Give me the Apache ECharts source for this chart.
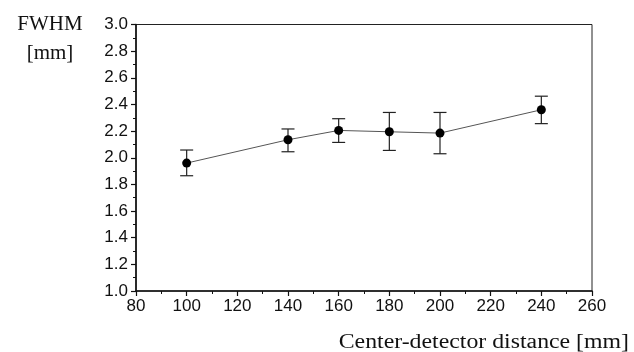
<!DOCTYPE html>
<html>
<head>
<meta charset="utf-8">
<script src="https://cdn.jsdelivr.net/npm/echarts@6/dist/echarts.min.js"></script>
<style>html,body{margin:0;padding:0;background:#fff}#c{width:634px;height:352px}</style>
</head>
<body>
<div id="c"></div>
<script>
var distances = [100, 140, 160, 180, 200, 240];
var fwhm = [1.96, 2.135, 2.205, 2.195, 2.185, 2.36];
var errLow = [1.865, 2.045, 2.115, 2.055, 2.03, 2.256];
var errHigh = [2.058, 2.216, 2.293, 2.34, 2.34, 2.462];
var xTicks = [80, 100, 120, 140, 160, 180, 200, 220, 240, 260];
var yTicks = [1.0, 1.2, 1.4, 1.6, 1.8, 2.0, 2.2, 2.4, 2.6, 2.8, 3.0];
var yTitle = 'FWHM\n[mm]';
var xTitle = 'Center-detector distance [mm]';

var chart = echarts.init(document.getElementById('c'));
var lineData = distances.map(function (d, i) { return [d, fwhm[i]]; });
var errData = distances.map(function (d, i) { return [d, errLow[i], errHigh[i]]; });

var axisCommon = {
  axisLine: { show: true, onZero: false, lineStyle: { color: '#111', width: 1.6 } },
  axisTick: { show: true, inside: false, length: 5, lineStyle: { color: '#111', width: 1.2 } },
  minorTick: { show: true, splitNumber: 2, length: 3, lineStyle: { color: '#111', width: 1 } },
  splitLine: { show: false },
  axisLabel: { color: '#111', fontFamily: 'Liberation Sans', fontSize: 17 }
};

chart.setOption({
  animation: false,
  grid: { left: 136, right: 42, top: 24.5, bottom: 61, show: true, borderColor: '#222', borderWidth: 1 },
  xAxis: Object.assign({}, axisCommon, {
    type: 'value', min: xTicks[0], max: xTicks[xTicks.length - 1], interval: 20,
    axisLabel: Object.assign({}, axisCommon.axisLabel, { margin: 7 })
  }),
  yAxis: Object.assign({}, axisCommon, {
    type: 'value', min: yTicks[0], max: yTicks[yTicks.length - 1], interval: 0.2,
    axisLabel: Object.assign({}, axisCommon.axisLabel, { margin: 8, formatter: function (v) { return v.toFixed(1); } })
  }),
  graphic: [
    { type: 'text', x: 50, y: 10, style: { text: yTitle, align: 'center', verticalAlign: 'top', fill: '#111', font: '21px "Liberation Serif"', lineHeight: 29 } },
    { type: 'text', x: 629, y: 333, scaleX: 1.19, originX: 0, originY: 0, style: { text: xTitle, align: 'right', verticalAlign: 'top', fill: '#111', font: '20px "Liberation Serif"' } }
  ],
  series: [
    {
      type: 'line', data: lineData, symbol: 'circle', symbolSize: 9,
      lineStyle: { color: '#555', width: 1 },
      itemStyle: { color: '#000' }, z: 3
    },
    {
      type: 'custom', data: errData, z: 2,
      renderItem: function (params, api) {
        var x = api.value(0);
        var lo = api.coord([x, api.value(1)]);
        var hi = api.coord([x, api.value(2)]);
        var w = 6.5;
        var st = { stroke: '#222', lineWidth: 1.2 };
        return {
          type: 'group', children: [
            { type: 'line', shape: { x1: lo[0], y1: lo[1], x2: hi[0], y2: hi[1] }, style: st },
            { type: 'line', shape: { x1: lo[0] - w, y1: lo[1], x2: lo[0] + w, y2: lo[1] }, style: st },
            { type: 'line', shape: { x1: hi[0] - w, y1: hi[1], x2: hi[0] + w, y2: hi[1] }, style: st }
          ]
        };
      }
    }
  ]
});
</script>
</body>
</html>
